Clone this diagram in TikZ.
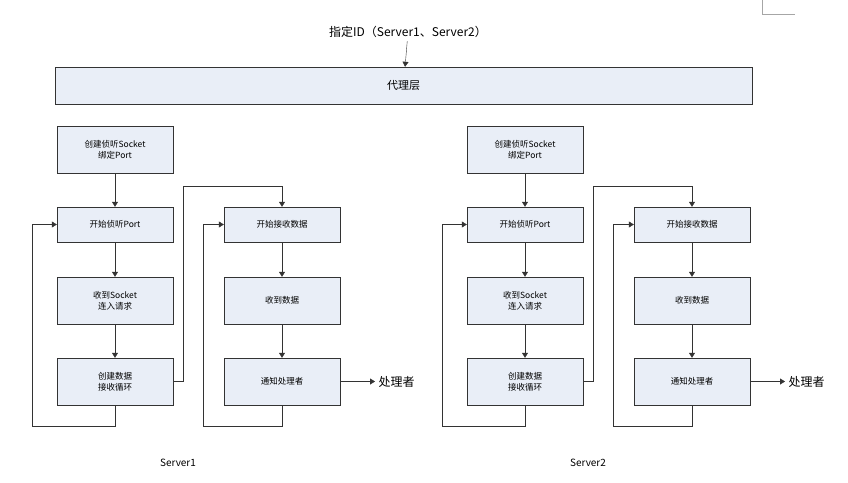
\documentclass[tikz,border=0pt]{standalone}
\usepackage{fontspec}
\setmainfont{Noto Sans CJK SC}
\usetikzlibrary{arrows.meta}
\definecolor{boxfill}{HTML}{E9EEF7}
\definecolor{linegray}{HTML}{333333}
\tikzset{
    stage/.style={draw=linegray, fill=boxfill, minimum width=116pt, minimum height=47pt,
        align=center, font=\fontsize{8.5pt}{11pt}\selectfont, inner sep=1pt},
    flow/.style={draw=linegray, -{Triangle[length=5pt,width=6pt]}},
}
\begin{document}
\begin{tikzpicture}[x=1pt, y=-1pt]
    % Bounding box and corner mark
    \useasboundingbox (0,0) rectangle (848,482);
    \draw[gray!70, thick] (762,0) -- (762,14) -- (795,14);

    % Top label and proxy layer
    \node[font=\fontsize{12pt}{14pt}\selectfont] (id) at (408,32) {指定ID（Server1、Server2）};
    \node[draw=linegray, fill=boxfill, minimum width=697pt, minimum height=37pt,
        font=\fontsize{11pt}{13pt}\selectfont] (proxy) at (403.5,85.5) {代理层};
    \draw[flow] (id) -- (proxy);

    \foreach \s/\dx in {1/0, 2/410} {
        % Listening column
        \node[stage] (c\s) at (115+\dx,149.5) {创建侦听Socket\\绑定Port};
        \node[stage, minimum height=35pt] (l\s) at (115+\dx,224.5) {开始侦听Port};
        \node[stage] (r\s) at (115+\dx,300.5) {收到Socket\\连入请求};
        \node[stage] (k\s) at (115+\dx,381.5) {创建数据\\接收循环};
        % Receiving column
        \node[stage, minimum height=35pt] (b\s) at (282+\dx,224.5) {开始接收数据};
        \node[stage] (d\s) at (282+\dx,300.5) {收到数据};
        \node[stage] (n\s) at (282+\dx,381.5) {通知处理者};
        \node[font=\fontsize{12pt}{14pt}\selectfont, anchor=west] (h\s) at (375+\dx,381.5) {处理者};
        \node[font=\fontsize{10pt}{12pt}\selectfont] (s\s) at (178+\dx,463) {Server\s};

        % Connectors
        \draw[flow] (c\s) -- (l\s);
        \draw[flow] (l\s) -- (r\s);
        \draw[flow] (r\s) -- (k\s);
        \draw[flow] (k\s.south) -- ++(0,21) -| (32+\dx,224.5) -- (l\s.west);
        \draw[flow] (k\s.east) -- ++(10,0) |- (282+\dx,186) -- (b\s.north);
        \draw[flow] (b\s) -- (d\s);
        \draw[flow] (d\s) -- (n\s);
        \draw[flow] (n\s.south) -- ++(0,21) -| (203+\dx,224.5) -- (b\s.west);
        \draw[flow] (n\s.east) -- (h\s.west);
    }
\end{tikzpicture}
\end{document}
